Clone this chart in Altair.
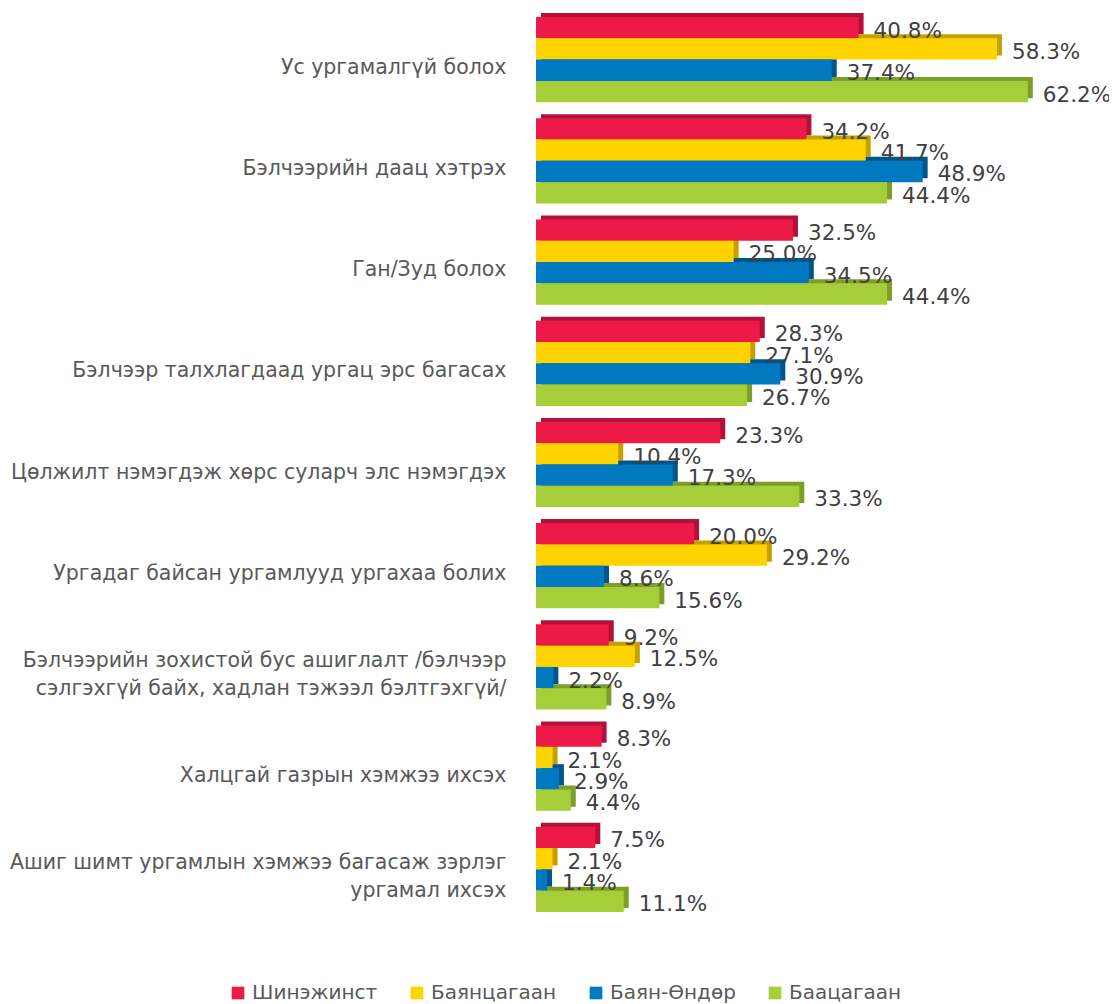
import altair as alt
import pandas as pd

categories = [
    "Ус ургамалгүй болох",
    "Бэлчээрийн даац хэтрэх",
    "Ган/Зуд болох",
    "Бэлчээр талхлагдаад ургац эрс багасах",
    "Цөлжилт нэмэгдэж хөрс суларч элс нэмэгдэх",
    "Ургадаг байсан ургамлууд ургахаа болих",
    "Бэлчээрийн зохистой бус ашиглалт /бэлчээр\nсэлгэхгүй байх, хадлан тэжээл бэлтгэхгүй/",
    "Халцгай газрын хэмжээ ихсэх",
    "Ашиг шимт ургамлын хэмжээ багасаж зэрлэг\nургамал ихсэх",
]
series = ["Шинэжинст", "Баянцагаан", "Баян-Өндөр", "Баацагаан"]
shinejinst = [40.8, 34.2, 32.5, 28.3, 23.3, 20.0, 9.2, 8.3, 7.5]
bayantsagaan = [58.3, 41.7, 25.0, 27.1, 10.4, 29.2, 12.5, 2.1, 2.1]
bayan_undur = [37.4, 48.9, 34.5, 30.9, 17.3, 8.6, 2.2, 2.9, 1.4]
baatsagaan = [62.2, 44.4, 44.4, 26.7, 33.3, 15.6, 8.9, 4.4, 11.1]

front_colors = ["#ED1A47", "#FFD300", "#0079C1", "#A6CE39"]
side_colors = ["#B0123A", "#C4A000", "#00558A", "#7E9E2C"]

rows = []
for s, vals in zip(series, [shinejinst, bayantsagaan, bayan_undur, baatsagaan]):
    for c, v in zip(categories, vals):
        rows.append({"category": c, "series": s, "value": v, "label": f"{v:.1f}%"})
df = pd.DataFrame(rows)

FONT = "DejaVu Sans"
PLOT_H = 911
P_IN = 0.158
P_OUT = 0.079
STEP = PLOT_H / (len(categories) - P_IN + 2 * P_OUT)
BW = STEP * (1 - P_IN)
DEPTH_X = 5
DEPTH_Y = 4

y_enc = alt.Y(
    "category:N",
    sort=categories,
    scale=alt.Scale(paddingInner=P_IN, paddingOuter=P_OUT),
    axis=alt.Axis(
        title=None,
        domain=False,
        ticks=False,
        labelFont=FONT,
        labelFontSize=20.5,
        labelColor="#595959",
        labelPadding=30,
        labelOffset={
            "condition": {"test": "indexof(datum.value, '\\n') >= 0", "value": -6},
            "value": 8,
        },
        labelLineHeight=28,
        labelLimit=600,
        labelExpr="split(datum.label, '\\n')",
    ),
)
x_enc = alt.X("value:Q", scale=alt.Scale(domain=[0, 64.5]), axis=None)

base = alt.Chart(df)

back = base.mark_bar(xOffset=DEPTH_X).encode(
    x=x_enc,
    y=y_enc,
    yOffset=alt.YOffset("series:N", sort=series, scale=alt.Scale(range=[-DEPTH_Y, BW - DEPTH_Y])),
    color=alt.Color("series:N", scale=alt.Scale(domain=series, range=side_colors), legend=None),
)

front = base.mark_bar().encode(
    x=x_enc,
    y=y_enc,
    yOffset=alt.YOffset("series:N", sort=series, scale=alt.Scale(range=[0, BW])),
    color=alt.Color(
        "series:N",
        scale=alt.Scale(domain=series, range=front_colors),
        legend=alt.Legend(
            title=None,
            orient="none",
            direction="horizontal",
            legendX=-308,
            legendY=974,
            symbolType="square",
            symbolSize=160,
            symbolStrokeWidth=0,
            labelFont=FONT,
            labelFontSize=20,
            labelColor="#595959",
            labelOffset=4,
            columnPadding=29,
            padding=0,
        ),
    ),
)

text = base.mark_text(align="left", baseline="middle", dx=15, dy=4, font=FONT, fontSize=21.5, color="#404040").encode(
    x=x_enc,
    y=y_enc,
    yOffset=alt.YOffset("series:N", sort=series, scale=alt.Scale(range=[0, BW])),
    text="label:N",
)

chart = (
    alt.layer(back, front, text)
    .resolve_scale(color="independent", yOffset="independent")
    .properties(
        width=510,
        height=PLOT_H,
        autosize=alt.AutoSizeParams(type="none"),
        padding={"left": 528, "top": 1, "right": 63, "bottom": 90},
    )
    .configure_view(stroke=None)
)

chart.save("out.html", embed_options={"renderer": "svg", "actions": False})
